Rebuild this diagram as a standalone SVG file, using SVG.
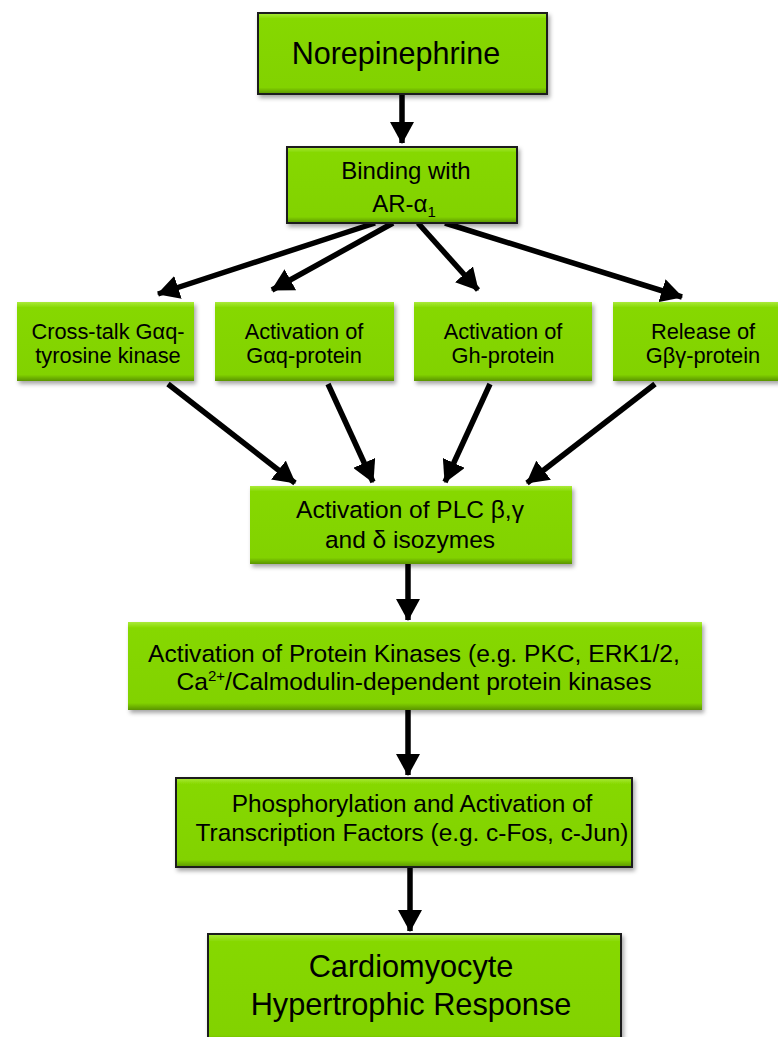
<svg xmlns="http://www.w3.org/2000/svg" width="778" height="1037" viewBox="0 0 778 1037">
<style>
.box{fill:url(#bevel);filter:url(#sh)}
.ol{stroke:#1a1a1a;stroke-width:2}
.t{font-family:"Liberation Sans",Arial,sans-serif;fill:#000;text-anchor:middle}
.conn{stroke:#000;stroke-width:5.5;fill:none;marker-end:url(#ah)}
</style>
<defs>
<linearGradient id="bevel" x1="0" y1="0" x2="0" y2="1">
<stop offset="0" stop-color="#aaea3a"/>
<stop offset="0.07" stop-color="#86d800"/>
<stop offset="0.92" stop-color="#82d200"/>
<stop offset="1" stop-color="#5a9400"/>
</linearGradient>
<filter id="sh" x="-10%" y="-10%" width="125%" height="130%">
<feDropShadow dx="2" dy="3" stdDeviation="2" flood-color="#000" flood-opacity="0.35"/>
</filter>
<marker id="ah" markerUnits="userSpaceOnUse" markerWidth="22" markerHeight="24" refX="21" refY="12" orient="auto" viewBox="0 0 22 24">
<path d="M0,0 L22,12 L0,24 z" fill="#000"/>
</marker>
</defs>
<g id="connectors">
<line class="conn" x1="402" y1="94" x2="402" y2="143"/>
<line class="conn" x1="375" y1="223" x2="158" y2="294"/>
<line class="conn" x1="393" y1="223" x2="272" y2="290"/>
<line class="conn" x1="418" y1="223" x2="478" y2="290"/>
<line class="conn" x1="445" y1="223" x2="682" y2="297"/>
<line class="conn" x1="168" y1="384" x2="295" y2="483"/>
<line class="conn" x1="328" y1="384" x2="373" y2="482"/>
<line class="conn" x1="490" y1="384" x2="445" y2="482"/>
<line class="conn" x1="655" y1="384" x2="527" y2="483"/>
<line class="conn" x1="408" y1="564" x2="408" y2="620"/>
<line class="conn" x1="408" y1="710" x2="408" y2="775"/>
<line class="conn" x1="410" y1="867" x2="410" y2="931"/>
</g>
<g id="norepinephrine">
<rect class="box ol" x="258" y="13" width="289" height="81"/>
<text class="t" x="396" y="64" font-size="30.5">Norepinephrine</text>
</g>
<g id="binding">
<rect class="box ol" x="287" y="147" width="230" height="76"/>
<text class="t" x="406" y="179" font-size="24">Binding with</text>
<text class="t" x="404" y="212" font-size="24">AR-α<tspan font-size="15" dy="5">1</tspan></text>
</g>
<g id="crosstalk">
<rect class="box" x="17" y="302" width="177" height="79"/>
<text class="t" x="108" y="339" font-size="21.8">Cross-talk Gαq-</text>
<text class="t" x="108" y="363" font-size="21.8">tyrosine kinase</text>
</g>
<g id="gaq">
<rect class="box" x="215" y="302" width="179" height="79"/>
<text class="t" x="304" y="339" font-size="21.8">Activation of</text>
<text class="t" x="304" y="363" font-size="21.8">Gαq-protein</text>
</g>
<g id="gh">
<rect class="box" x="414" y="302" width="178" height="79"/>
<text class="t" x="503" y="339" font-size="21.8">Activation of</text>
<text class="t" x="503" y="363" font-size="21.8">Gh-protein</text>
</g>
<g id="gbg">
<rect class="box" x="613" y="302" width="180" height="79"/>
<text class="t" x="703" y="339" font-size="21.8">Release of</text>
<text class="t" x="703" y="363" font-size="21.8">Gβγ-protein</text>
</g>
<g id="plc">
<rect class="box" x="250" y="486" width="322" height="78"/>
<text class="t" x="410" y="518" font-size="24.5">Activation of PLC β,γ</text>
<text class="t" x="410" y="548" font-size="24.5">and δ isozymes</text>
</g>
<g id="kinases">
<rect class="box" x="128" y="622" width="574" height="88"/>
<text class="t" x="414" y="662" font-size="24.6">Activation of Protein Kinases (e.g. PKC, ERK1/2,</text>
<text class="t" x="414" y="690" font-size="24.6">Ca<tspan font-size="15" dy="-9">2+</tspan><tspan dy="9">/Calmodulin-dependent protein kinases</tspan></text>
</g>
<g id="transcription">
<rect class="box ol" x="176" y="778" width="456" height="89"/>
<text class="t" x="412" y="812" font-size="24.4">Phosphorylation and Activation of</text>
<text class="t" x="412" y="841" font-size="24.4">Transcription Factors (e.g. c-Fos, c-Jun)</text>
</g>
<g id="response">
<rect class="box ol" x="208" y="934" width="413" height="110"/>
<text class="t" x="411" y="977" font-size="30.7">Cardiomyocyte</text>
<text class="t" x="411" y="1015" font-size="30.7">Hypertrophic Response</text>
</g>
</svg>
